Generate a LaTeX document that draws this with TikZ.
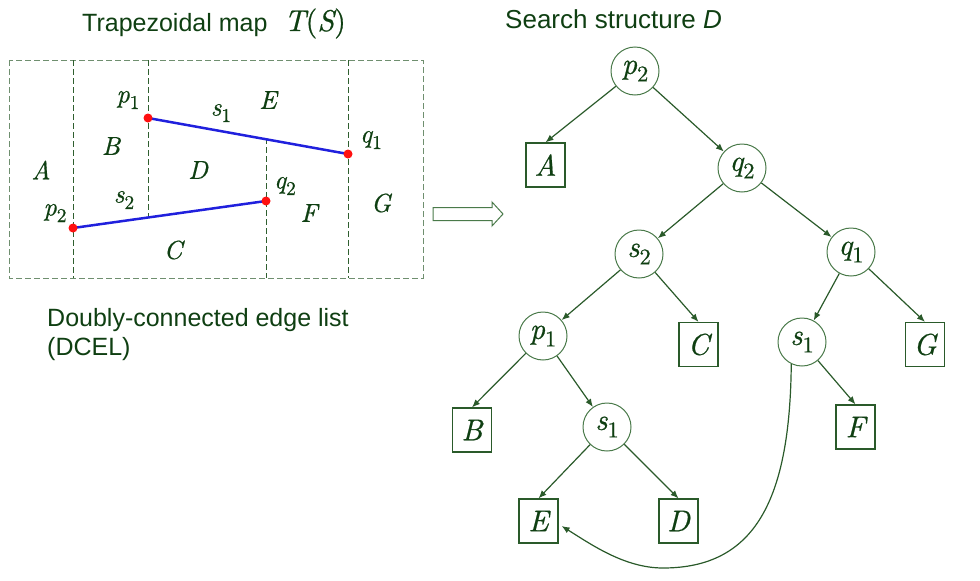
\documentclass[tikz,border=0pt]{standalone}
\usepackage{fontspec}
\setsansfont{Liberation Sans}
\newfontfamily\lblfont{lmroman10}[Extension=.otf, UprightFont=*-regular, ItalicFont=*-italic, FakeBold=0.6]
\usetikzlibrary{arrows.meta}
\definecolor{txtgreen}{HTML}{0F3F12}
\definecolor{linegreen}{HTML}{2A5A2A}
\definecolor{circgreen}{HTML}{4A7A4A}
\definecolor{dashgrey}{HTML}{6F8F6F}
\definecolor{dashdark}{HTML}{2F5F2F}
\definecolor{segblue}{HTML}{2020DD}
\definecolor{ptred}{HTML}{FF1010}
\newcommand{\lbsub}[2]{#1\raisebox{-0.25em}{\scalebox{0.75}{\upshape #2}}}
\tikzset{
  title/.style={anchor=base west, text=txtgreen, font=\sffamily\fontsize{25}{29}\selectfont, inner sep=0pt},
  titlemath/.style={anchor=base west, text=txtgreen, font=\lblfont\fontsize{30}{32}\selectfont, inner sep=0pt},
  maplbl/.style={text=txtgreen, font=\lblfont\fontsize{26}{28}\selectfont\itshape, inner sep=0pt},
  tcirc/.style={circle, draw=circgreen, line width=1pt, minimum size=48pt, inner sep=0pt, text=txtgreen, font=\lblfont\fontsize{30}{32}\selectfont\itshape},
  tleaf/.style={rectangle, draw=linegreen, line width=1.2pt, minimum width=39pt, minimum height=44pt, inner sep=0pt, text=txtgreen, font=\lblfont\fontsize{30}{32}\selectfont\itshape},
  tedge/.style={draw=linegreen, line width=1.2pt, -{Latex[length=8pt,width=6.5pt]}},
  outerdash/.style={draw=dashgrey, line width=1pt, dash pattern=on 6pt off 3pt},
  innerdash/.style={draw=dashdark, line width=1pt, dash pattern=on 6pt off 3pt},
  seg/.style={draw=segblue, line width=2.5pt},
  endpt/.style={circle, fill=ptred, minimum size=9pt, inner sep=0pt},
  hollow/.style={draw=circgreen, line width=1pt, fill=white}
}
\begin{document}
\begin{tikzpicture}[x=1pt,y=-1pt]
\useasboundingbox (0,0) rectangle (980,581);
% titles
\node[title] (t1) at (82,31) {Trapezoidal map};
\node[titlemath] (t1m) at (284,31) {\itshape T\upshape(\itshape S\upshape)};
\node[title, font=\sffamily\fontsize{26}{29}\selectfont] (t2) at (505,28) {Search structure \textit{D}};
\node[title, align=left, anchor=north west] (t3) at (47,308) {Doubly-connected edge list\\(DCEL)};
% trapezoidal map
\draw[outerdash] (9,60) rectangle (423,278);
\coordinate (p1) at (148,118);
\coordinate (q1) at (348,154);
\coordinate (p2) at (73,228);
\coordinate (q2) at (266,201);
\coordinate (v1t) at (73,60);
\coordinate (v1b) at (73,278);
\coordinate (v2t) at (148,60);
\coordinate (v2b) at (148,216);
\coordinate (v3t) at (266,138);
\coordinate (v3b) at (266,278);
\coordinate (v4t) at (348,60);
\coordinate (v4b) at (348,278);
\draw[innerdash] (v1t) -- (v1b);
\draw[innerdash] (v2t) -- (v2b);
\draw[innerdash] (v3t) -- (v3b);
\draw[innerdash] (v4t) -- (v4b);
\draw[seg] (p1) -- (q1);
\draw[seg] (p2) -- (q2);
\node[endpt] (dp1) at (p1) {};
\node[endpt] (dq1) at (q1) {};
\node[endpt] (dp2) at (p2) {};
\node[endpt] (dq2) at (q2) {};
\node[maplbl] (lp1) at (128,100) {\lbsub{p}{1}};
\node[maplbl] (ls1) at (221,113) {\lbsub{s}{1}};
\node[maplbl] (lE) at (268,100) {E};
\node[maplbl] (lq1) at (371,140) {\lbsub{q}{1}};
\node[maplbl] (lB) at (111,146) {B};
\node[maplbl] (lA) at (41,170) {A};
\node[maplbl] (lD) at (198,170) {D};
\node[maplbl] (lq2) at (285,186) {\lbsub{q}{2}};
\node[maplbl] (ls2) at (124,200) {\lbsub{s}{2}};
\node[maplbl] (lF) at (309,213) {F};
\node[maplbl] (lG) at (381,203) {G};
\node[maplbl] (lp2) at (55,213) {\lbsub{p}{2}};
\node[maplbl] (lC) at (173,250) {C};
% hollow arrow
\draw[hollow] (433,207.5) -- (492,207.5) -- (492,202) -- (503,214) -- (492,226) -- (492,220.5) -- (433,220.5) -- cycle;
% search structure
\node[tcirc] (np2) at (635,71) {\lbsub{p}{2}};
\node[tleaf] (nA) at (545.5,165) {A};
\node[tcirc] (nq2) at (742,168) {\lbsub{q}{2}};
\node[tcirc] (ns2) at (639,254) {\lbsub{s}{2}};
\node[tcirc] (nq1) at (851,252) {\lbsub{q}{1}};
\node[tcirc] (np1) at (543,336) {\lbsub{p}{1}};
\node[tleaf] (nC) at (698.5,344.5) {C};
\node[tcirc] (ns1r) at (802,342) {\lbsub{s}{1}};
\node[tleaf] (nG) at (925,344.5) {G};
\node[tleaf] (nB) at (472,430) {B};
\node[tcirc] (ns1l) at (607,427) {\lbsub{s}{1}};
\node[tleaf] (nF) at (855.5,427) {F};
\node[tleaf] (nE) at (538.5,521) {E};
\node[tleaf] (nD) at (678.5,521) {D};
\draw[tedge] (np2) -- (nA.north);
\draw[tedge] (np2) -- (nq2);
\draw[tedge] (nq2) -- (ns2);
\draw[tedge] (nq2) -- (nq1);
\draw[tedge] (ns2) -- (np1);
\draw[tedge] (ns2) -- (nC.north);
\draw[tedge] (nq1) -- (ns1r);
\draw[tedge] (nq1) -- (nG.north);
\draw[tedge] (np1) -- (nB.north);
\draw[tedge] (np1) -- (ns1l);
\draw[tedge] (ns1l) -- (nE.north);
\draw[tedge] (ns1l) -- (nD.north);
\draw[tedge] (ns1r) -- (nF.north);
\draw[tedge] (ns1r.244) .. controls (790,500) and (755,568) .. (663,568) .. controls (625,568) and (592,545) .. ([xshift=3pt,yshift=-5pt]nE.east);
\end{tikzpicture}
\end{document}
